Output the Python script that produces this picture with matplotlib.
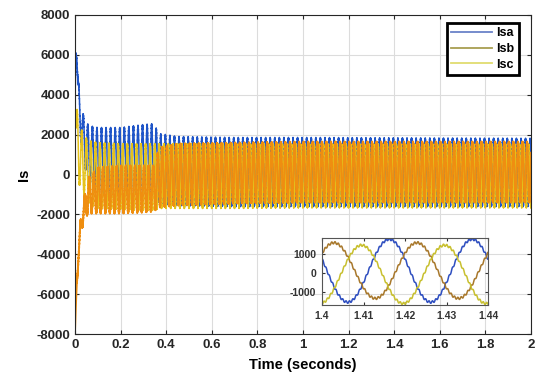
import numpy as np
import matplotlib
matplotlib.use("Agg")
import matplotlib.pyplot as plt
from matplotlib.lines import Line2D

plt.rcParams['font.family'] = ['Liberation Sans', 'DejaVu Sans']
plt.rcParams['font.weight'] = 'bold'
plt.rcParams['axes.unicode_minus'] = False
plt.rcParams['path.simplify'] = False

# ---- data ----
series_names = ["Isa", "Isb", "Isc"]
freq_hz = 50.0
isa_peak_time = 1.4162          # a positive peak of Isa seen in the inset
phase_lag_deg = [0, 120, 240]
ripple_amp = 60.0
ripple_hz = 1250.0

# envelope knots (seconds) and upper / lower envelopes (A) per phase
env_t = [0, 0.004, 0.008, 0.015, 0.025, 0.04, 0.06, 0.1, 0.2, 0.3, 0.345, 0.37, 0.45, 0.7, 1.0, 1.5, 2.0]
isa_upper = [3800, 6100, 6200, 4600, 3500, 2800, 2400, 2300, 2300, 2450, 2500, 2000, 1850, 1800, 1800, 1780, 1760]
isa_lower = [3800, 6100, 5800, 3000, 1800, 600, -400, -900, -1000, -900, -900, -1400, -1500, -1550, -1550, -1550, -1550]
isb_upper = [-7800, -6500, -5200, -3800, -2200, -1200, -200, 300, 400, 400, 400, 1300, 1500, 1550, 1600, 1600, 1600]
isb_lower = [-7800, -6800, -5600, -4300, -3000, -2200, -1900, -1900, -1900, -1850, -1800, -1600, -1500, -1400, -1350, -1350, -1350]
isc_upper = [3700, 3600, 3300, 2800, 2300, 1900, 1650, 1550, 1500, 1500, 1500, 1500, 1500, 1480, 1470, 1470, 1470]
isc_lower = [3700, 1500, 300, -300, -700, -1000, -1400, -1650, -1700, -1750, -1750, -1650, -1650, -1650, -1620, -1620, -1620]

main_xticks = [0, 0.2, 0.4, 0.6, 0.8, 1, 1.2, 1.4, 1.6, 1.8, 2]
main_yticks = [-8000, -6000, -4000, -2000, 0, 2000, 4000, 6000, 8000]
inset_xticks = [1.4, 1.41, 1.42, 1.43, 1.44]
inset_yticks = [-1000, 0, 1000]

main_colors = ['#1f55c8', '#ef8e10', '#e4c21c']
inset_colors = ['#2f4fc0', '#a8782c', '#c8c030']
legend_colors = ['#6a82c8', '#a89e50', '#e0dc70']

# ---- build waveforms ----
t = np.arange(0, 2.0 + 1e-9, 1 / 20000)
uppers = [isa_upper, isb_upper, isc_upper]
lowers = [isa_lower, isb_lower, isc_lower]
waves = []
for k in range(3):
    U = np.interp(t, env_t, uppers[k])
    L = np.interp(t, env_t, lowers[k])
    A = (U - L) / 2
    D = (U + L) / 2
    carrier = np.cos(2 * np.pi * freq_hz * (t - isa_peak_time) - np.deg2rad(phase_lag_deg[k]))
    ripple = ripple_amp * np.sin(2 * np.pi * ripple_hz * t + 2.1 * k)
    waves.append(D + A * carrier + ripple * (A > 200))

fig = plt.figure(figsize=(5.5, 3.84), dpi=100)
ax = fig.add_axes([0.1364, 0.130, 0.829, 0.831])

draw_order = [0, 2, 1]
main_lw = [1.1, 1.4, 1.1]
for k in draw_order:
    ax.plot(t, waves[k], color=main_colors[k], lw=main_lw[k])

ax.set_xlim(0, 2)
ax.set_ylim(-8000, 8000)
ax.set_xticks(main_xticks)
ax.set_xticklabels([f"{v:g}" for v in main_xticks])
ax.set_yticks(main_yticks)
ax.grid(True, color='#dcdcdc', lw=0.8)
ax.set_axisbelow(True)
ax.tick_params(direction='in', top=True, right=True, labelsize=9.5, colors='#262626', length=3)
for s in ax.spines.values():
    s.set_color('#262626')
    s.set_linewidth(0.8)
ax.set_xlabel("Time (seconds)", fontsize=10.5, fontweight='bold', labelpad=5)
ax.set_ylabel("Is", fontsize=10.5, fontweight='bold', labelpad=4)

handles = [Line2D([], [], color=legend_colors[k], lw=1.3) for k in range(3)]
leg = ax.legend(handles, series_names, loc='upper right', bbox_to_anchor=(0.974, 0.975),
                fontsize=9, handlelength=3.3, handletextpad=0.35, borderpad=0.35,
                labelspacing=0.3, fancybox=False, framealpha=1, borderaxespad=0)
leg.get_frame().set_edgecolor('black')
leg.get_frame().set_linewidth(2.0)
for txt in leg.get_texts():
    txt.set_fontweight('bold')

# ---- inset ----
axi = fig.add_axes([0.5855, 0.2057, 0.3018, 0.1745])
axi.set_facecolor('none')
m = (t >= 1.4) & (t <= 1.44)
for k in range(3):
    axi.plot(t[m], waves[k][m], color=inset_colors[k], lw=1.1)
axi.set_xlim(1.4, 1.44)
axi.set_ylim(-1700, 1850)
axi.set_xticks(inset_xticks)
axi.set_xticklabels([f"{v:g}" for v in inset_xticks])
axi.set_yticks(inset_yticks)
axi.tick_params(direction='in', top=True, right=True, labelsize=7.5, colors='#333333', length=2, pad=4)
for s in axi.spines.values():
    s.set_color('#555555')
    s.set_linewidth(0.8)

fig.savefig("out.png", dpi=100)
